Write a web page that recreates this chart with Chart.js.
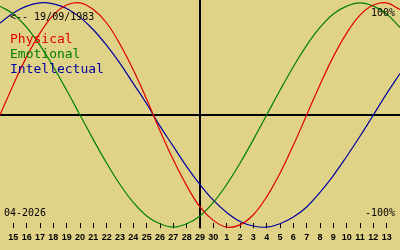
<!DOCTYPE html>
<html>
<head>
<meta charset="utf-8">
<script src="https://cdn.jsdelivr.net/npm/chart.js@4/dist/chart.umd.min.js"></script>
<style>
  html, body { margin: 0; padding: 0; background: #e0d388; }
  canvas { display: block; }
</style>
</head>
<body>
<canvas id="bio" width="400" height="250"></canvas>
<script>
// day labels: 15 April .. 13 May
const dayLabels = ['15','16','17','18','19','20','21','22','23','24','25','26','27','28','29','30',
                   '1','2','3','4','5','6','7','8','9','10','11','12','13'];
const todayIndex = 14;
const birthDate = '19/09/1983';
const monthLabel = '04-2026';
const seriesNames = ['Physical', 'Emotional', 'Intellectual'];
const seriesColors = ['#e00000', '#008000', '#0000a0'];

// values from index -1 to 29 (one day left/right of the labelled range)
const physical = [0, 0.27, 0.52, 0.73, 0.89, 0.98, 1.00, 0.94, 0.82, 0.63, 0.40, 0.14, -0.14, -0.40, -0.63,
                  -0.82, -0.94, -1.00, -0.98, -0.89, -0.73, -0.52, -0.27, 0, 0.27, 0.52, 0.73, 0.89, 0.98, 1.00, 0.94];
const emotional = [0.97, 0.90, 0.78, 0.62, 0.43, 0.22, 0, -0.22, -0.43, -0.62, -0.78, -0.90, -0.97, -1.00, -0.97,
                   -0.90, -0.78, -0.62, -0.43, -0.22, 0, 0.22, 0.43, 0.62, 0.78, 0.90, 0.97, 1.00, 0.97, 0.90, 0.78];
const intellectual = [0.82, 0.91, 0.97, 1.00, 0.99, 0.95, 0.87, 0.76, 0.62, 0.46, 0.28, 0.10, -0.10, -0.28, -0.46,
                      -0.62, -0.76, -0.87, -0.95, -0.99, -1.00, -0.97, -0.91, -0.82, -0.69, -0.54, -0.37, -0.19, 0, 0.19, 0.37];

const toPoints = arr => arr.map((v, i) => ({ x: i - 1, y: v }));

const overlay = {
  id: 'overlay',
  beforeDatasetsDraw(chart) {
    const { ctx, scales: { x, y } } = chart;
    ctx.save();
    ctx.strokeStyle = '#000';
    ctx.lineWidth = 2;
    const y0 = Math.round(y.getPixelForValue(0));
    const xt = Math.round(x.getPixelForValue(todayIndex));
    ctx.beginPath();
    ctx.moveTo(0, y0); ctx.lineTo(chart.width, y0);
    ctx.moveTo(xt, 0); ctx.lineTo(xt, chart.chartArea.bottom + 5);
    ctx.stroke();
    ctx.restore();
  },
  afterDraw(chart) {
    const ctx = chart.ctx;
    ctx.save();
    ctx.textBaseline = 'alphabetic';
    ctx.fillStyle = '#000';
    ctx.font = '10px "DejaVu Sans Mono"';
    ctx.textAlign = 'left';
    ctx.fillText('<-- ' + birthDate, 10, 20);
    ctx.fillText(monthLabel, 4, 216);
    ctx.textAlign = 'right';
    ctx.fillText('100%', 395, 16);
    ctx.fillText('-100%', 395, 216);
    ctx.textAlign = 'left';
    ctx.font = '13px "DejaVu Sans Mono"';
    chart.data.datasets.forEach((ds, i) => {
      ctx.fillStyle = ds.borderColor;
      ctx.fillText(ds.label, 10, 43 + i * 15);
    });
    ctx.restore();
  }
};

new Chart(document.getElementById('bio'), {
  type: 'line',
  data: {
    datasets: [physical, emotional, intellectual].map((arr, i) => ({
      label: seriesNames[i],
      data: toPoints(arr),
      borderColor: seriesColors[i],
      borderWidth: 1.2,
      pointRadius: 0,
      tension: 0.4,
      fill: false
    }))
  },
  options: {
    responsive: false,
    animation: false,
    devicePixelRatio: 1,
    clip: false,
    layout: { padding: { top: 0, left: 0, right: 0, bottom: 3 } },
    plugins: { legend: { display: false }, tooltip: { enabled: false } },
    scales: {
      x: {
        type: 'linear',
        min: -1,
        max: 29,
        afterBuildTicks: scale => { scale.ticks = dayLabels.map((_, i) => ({ value: i })); },
        grid: { drawOnChartArea: false, tickLength: 5, color: '#000', lineWidth: 1 },
        border: { display: false },
        ticks: {
          autoSkip: false,
          maxRotation: 0,
          padding: 4,
          color: '#000',
          font: { family: 'Liberation Sans', weight: 'bold', size: 9 },
          callback: v => dayLabels[v]
        }
      },
      y: {
        display: false,
        min: -0.965,
        max: 1.025
      }
    }
  },
  plugins: [overlay]
});
</script>
</body>
</html>
